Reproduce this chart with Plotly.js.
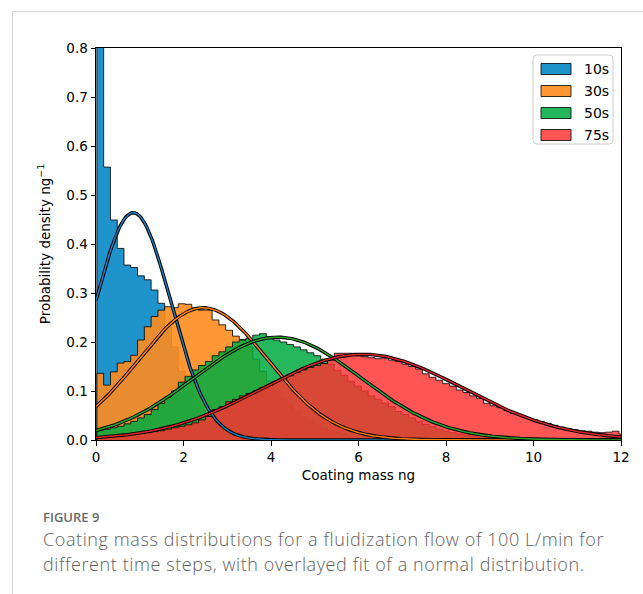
<!DOCTYPE html>
<html>
<head>
<meta charset="utf-8">
<script src="https://cdn.plot.ly/plotly-3.0.1.min.js"></script>
<style>
  html, body { margin: 0; padding: 0; background: #fff; }
  #wrap { position: relative; width: 643px; height: 594px; overflow: hidden; }
  #chart { position: absolute; left: 0; top: 0; width: 643px; height: 594px; }
  .frame-top { position: absolute; left: 12px; top: 11px; width: 631px; height: 1px; background: #d8d8d8; z-index: 5; }
  .frame-left { position: absolute; left: 12px; top: 11px; width: 1px; height: 583px; background: #d8d8d8; z-index: 5; }
  .fig-label { position: absolute; left: 43px; top: 510px; font-family: "Open Sans", sans-serif; font-size: 13px; line-height: 14px; font-weight: 600; color: #6a6a6a; z-index: 5; }
  .fig-caption { position: absolute; left: 43px; white-space: nowrap; font-family: "Open Sans", sans-serif; font-size: 18px; line-height: 24px; letter-spacing: 0.6px; font-weight: 300; color: #626262; z-index: 5; }
  .cap1 { top: 527px; }
  .cap2 { top: 552px; }
</style>
</head>
<body>
<div id="wrap">
  <div id="chart"></div>
  <div class="frame-top"></div>
  <div class="frame-left"></div>
  <div class="fig-label">FIGURE 9</div>
  <div class="fig-caption cap1">Coating mass distributions for a fluidization flow of 100 L/min for</div>
  <div class="fig-caption cap2">different time steps, with overlayed fit of a normal distribution.</div>
</div>
<script>
// Histogram bins shared by all time steps (ng)
const binStart = 0.02;
const binWidth = 0.155;

const seriesNames = ["10s", "30s", "50s", "75s"];

// Probability density per bin (ng^-1)
const density10s = [2.2, 0.557, 0.449, 0.391, 0.357, 0.352, 0.335, 0.327, 0.306, 0.279,
  0.23, 0.19, 0.14, 0.10, 0.065, 0.04, 0.025, 0.015, 0.009, 0.005, 0.003, 0.002, 0.001];

const density30s = [0.136, 0.112, 0.139, 0.157, 0.160, 0.173, 0.204, 0.231, 0.252, 0.265,
  0.272, 0.270, 0.278, 0.277, 0.270, 0.265, 0.265, 0.245, 0.235, 0.224,
  0.212, 0.205, 0.19, 0.165, 0.14, 0.12, 0.10, 0.085, 0.07, 0.058,
  0.047, 0.038, 0.030, 0.024, 0.019, 0.015, 0.011, 0.008, 0.006, 0.004,
  0.003, 0.002, 0.0015, 0.001];

const density50s = [0.020, 0.022, 0.025, 0.028, 0.033, 0.038, 0.045, 0.052, 0.062, 0.075,
  0.088, 0.10, 0.118, 0.13, 0.143, 0.152, 0.16, 0.172, 0.18, 0.19,
  0.20, 0.204, 0.208, 0.214, 0.217, 0.21, 0.204, 0.20, 0.195, 0.19,
  0.184, 0.178, 0.172, 0.165, 0.155, 0.142, 0.132, 0.12, 0.11, 0.10,
  0.09, 0.083, 0.075, 0.068, 0.058, 0.052, 0.045, 0.038, 0.032, 0.027,
  0.022, 0.018, 0.015, 0.012, 0.010, 0.008, 0.006, 0.005, 0.004, 0.003,
  0.002, 0.0015, 0.001, 0.001];

const density75s = [0.006, 0.007, 0.008, 0.009, 0.010, 0.011, 0.013, 0.015, 0.017, 0.019,
  0.022, 0.025, 0.028, 0.031, 0.035, 0.041, 0.048, 0.062, 0.068, 0.078,
  0.083, 0.09, 0.095, 0.10, 0.107, 0.112, 0.12, 0.126, 0.131, 0.138,
  0.143, 0.148, 0.152, 0.156, 0.162, 0.177, 0.177, 0.177, 0.172, 0.170,
  0.168, 0.166, 0.167, 0.163, 0.16, 0.155, 0.15, 0.145, 0.135, 0.128,
  0.122, 0.115, 0.11, 0.102, 0.097, 0.09, 0.085, 0.075, 0.07, 0.066,
  0.06, 0.054, 0.05, 0.045, 0.042, 0.038, 0.034, 0.03, 0.026, 0.023,
  0.021, 0.019, 0.018, 0.016, 0.015, 0.016, 0.018, 0.012];

// Fitted normal distribution parameters (ng)
const fitMean  = [0.85, 2.45, 4.15, 6.1];
const fitSigma = [0.86, 1.478, 1.90, 2.28];

const xTicks = [0, 2, 4, 6, 8, 10, 12];
const yTicks = [0.0, 0.1, 0.2, 0.3, 0.4, 0.5, 0.6, 0.7, 0.8];

// Styles
const fillColors = ["rgba(0,132,196,0.88)", "rgba(255,140,30,0.9)", "rgba(0,170,64,0.85)", "rgba(255,48,48,0.82)"];
const fitColors  = ["#1f77b4", "#ff7f0e", "#2ca02c", "#d62728"];
const edgeColor = "rgba(0,0,0,0.8)";
const font = "DejaVu Sans, sans-serif";

// Build a filled step outline (matplotlib "stepfilled" look) from bin densities
function stepOutline(vals) {
  const x = [binStart], y = [0];
  for (let i = 0; i < vals.length; i++) {
    x.push(binStart + i * binWidth);
    y.push(vals[i]);
  }
  const end = binStart + vals.length * binWidth;
  x.push(end); y.push(vals[vals.length - 1]);
  x.push(end); y.push(0);
  return { x, y };
}

function normalCurve(mu, sigma) {
  const x = [], y = [];
  for (let i = 0; i <= 480; i++) {
    const v = i * 12 / 480;
    x.push(v);
    y.push(Math.exp(-0.5 * Math.pow((v - mu) / sigma, 2)) / (sigma * Math.sqrt(2 * Math.PI)));
  }
  return { x, y };
}

const densities = [density10s, density30s, density50s, density75s];
const traces = [];

densities.forEach((vals, k) => {
  const s = stepOutline(vals);
  traces.push({
    type: "scatter", mode: "lines", x: s.x, y: s.y,
    line: { shape: "hv", color: edgeColor, width: 1 },
    fill: "tozeroy", fillcolor: fillColors[k],
    name: seriesNames[k], showlegend: false, hoverinfo: "skip"
  });
});

fitMean.forEach((mu, k) => {
  const c = normalCurve(mu, fitSigma[k]);
  // dark stroke underneath, coloured line on top
  traces.push({
    type: "scatter", mode: "lines", x: c.x, y: c.y,
    line: { color: "#000", width: 3.4 }, showlegend: false, hoverinfo: "skip"
  });
  traces.push({
    type: "scatter", mode: "lines", x: c.x, y: c.y,
    line: { color: fitColors[k], width: 1.5 }, showlegend: false, hoverinfo: "skip"
  });
});

// Legend box drawn in paper coordinates
const W = 525, H = 392;           // plot area in px
const px = v => (v - 96) / W;
const py = v => (440 - v) / H;
const bx0 = px(533), bx1 = px(613), by0 = py(144), by1 = py(55);
const rx = 4 / W, ry = 4 / H;
const boxPath = `M${bx0 + rx},${by0} L${bx1 - rx},${by0} Q${bx1},${by0} ${bx1},${by0 + ry} ` +
  `L${bx1},${by1 - ry} Q${bx1},${by1} ${bx1 - rx},${by1} L${bx0 + rx},${by1} ` +
  `Q${bx0},${by1} ${bx0},${by1 - ry} L${bx0},${by0 + ry} Q${bx0},${by0} ${bx0 + rx},${by0} Z`;

const shapes = [{
  type: "path", xref: "paper", yref: "paper", path: boxPath,
  fillcolor: "rgba(255,255,255,0.8)", line: { color: "#cccccc", width: 1 }, layer: "above"
}];
const annotations = [];
const rowCenters = [69, 91, 113, 135];
seriesNames.forEach((name, k) => {
  const c = rowCenters[k];
  shapes.push({
    type: "rect", xref: "paper", yref: "paper",
    x0: px(541), x1: px(571), y0: py(c + 5.5), y1: py(c - 5.5),
    fillcolor: fillColors[k], line: { color: edgeColor, width: 1 }, layer: "above"
  });
  annotations.push({
    xref: "paper", yref: "paper", x: px(582), y: py(c), xanchor: "left", yanchor: "middle",
    text: name, showarrow: false, font: { family: font, size: 14, color: "#000" }
  });
});

const axisCommon = {
  showline: true, mirror: true, linecolor: "#000", linewidth: 1,
  ticks: "outside", ticklen: 4.5, tickwidth: 1, tickcolor: "#000",
  showgrid: false, zeroline: false,
  tickfont: { family: font, size: 13.5, color: "#000" }
};

const layout = {
  width: 643, height: 594,
  margin: { l: 96, r: 22, t: 48, b: 154 },
  paper_bgcolor: "rgba(0,0,0,0)", plot_bgcolor: "#fff",
  showlegend: false,
  xaxis: Object.assign({}, axisCommon, {
    range: [0, 12], tickvals: xTicks, ticktext: xTicks.map(String),
    title: { text: "Coating mass ng", font: { family: font, size: 13.5, color: "#000" }, standoff: 6 }
  }),
  yaxis: Object.assign({}, axisCommon, {
    range: [0, 0.8], tickvals: yTicks, ticktext: yTicks.map(v => v.toFixed(1)),
    title: { text: "Probability density ng<sup>−1</sup>", font: { family: font, size: 13.5, color: "#000" }, standoff: 12 }
  }),
  shapes, annotations
};

Plotly.newPlot("chart", traces, layout, { staticPlot: true, displayModeBar: false });
</script>
</body>
</html>
